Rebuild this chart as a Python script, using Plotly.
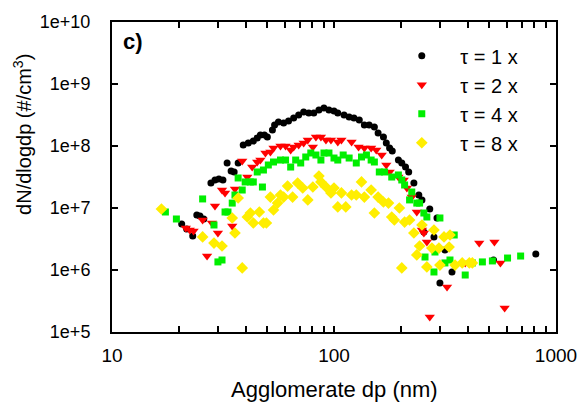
import plotly.graph_objects as go

# ---- data (Agglomerate dp in nm, dN/dlogdp in #/cm3) ----
dp_t1 = [20.6, 21.7, 23.1, 24.1, 24.9, 25.9, 27.9, 29.1, 30.3, 31.6, 33.0, 34.4, 35.5, 37.0,
         39.0, 41.1, 43.3, 45.1, 46.6, 48.6, 50.1, 52.8, 54.0, 56.2, 59.3, 62.4, 65.8, 69.3,
         73.0, 77.0, 81.1, 85.5, 90.1, 94.9, 100, 104, 111, 117, 123, 130, 137, 144, 152,
         158, 167, 172, 178, 183, 195, 202, 210, 217, 229, 241, 249, 270, 291, 254, 282,
         316, 340, 300, 523, 811]
n_t1 = [5.52e6, 4.58e6, 3.53e6, 7.71e6, 7.43e6, 6.65e6, 2.53e7, 2.83e7, 2.94e7, 2.83e7, 5.32e7,
        3.95e7, 3.81e7, 5.32e7, 1.04e8, 1.12e8, 1.20e8, 1.35e8, 1.50e8, 1.50e8, 1.40e8, 1.81e8,
        2.18e8, 2.44e8, 2.35e8, 2.53e8, 2.83e8, 3.16e8, 3.53e8, 3.41e8, 3.41e8, 3.81e8, 4.10e8,
        3.81e8, 3.67e8, 3.41e8, 3.16e8, 2.94e8, 2.83e8, 2.63e8, 2.18e8, 2.18e8, 2.02e8, 1.62e8,
        1.40e8, 1.12e8, 9.29e7, 8.30e7, 5.94e7, 5.32e7, 4.58e7, 3.81e7, 2.53e7, 1.62e7, 1.35e7,
        9.64e6, 6.90e6, 4.10e6, 3.41e6, 2.10e6, 9.29e5, 6.17e5, 1.45e6, 1.81e6]

dp_t2 = [21.5, 22.4, 23.3, 25.6, 26.8, 28.2, 29.1, 30.0, 31.3, 32.3, 34.8, 35.8, 38.6, 40.7,
         42.8, 45.1, 46.6, 49.1, 51.7, 53.4, 57.4, 60.5, 63.8, 65.8, 69.3, 73.0, 76.2, 80.3,
         82.9, 87.3, 92.0, 96.9, 104, 108, 120, 129, 137, 147, 155, 164, 172, 178, 195, 206,
         213, 224, 236, 249, 254, 262, 270, 323, 390, 451, 528, 562, 587]
n_t2 = [4.76e6, 4.42e6, 4.26e6, 6.40e6, 1.68e6, 5.73e6, 1.08e7, 3.95e6, 1.95e7, 1.75e7, 5.13e6,
        2.02e7, 5.73e7, 3.16e7, 4.58e7, 5.52e7, 5.94e7, 7.71e7, 8.00e7, 9.29e7, 1.00e8, 1.00e8,
        8.62e7, 9.64e7, 1.04e8, 1.12e8, 1.25e8, 9.64e7, 1.40e8, 1.40e8, 1.25e8, 1.25e8, 1.16e8,
        1.25e8, 1.16e8, 9.64e7, 9.29e7, 9.29e7, 8.62e7, 7.16e7, 4.94e7, 3.81e7, 3.16e7, 2.83e7,
        2.10e7, 1.50e7, 8.62e6, 4.42e6, 3.95e6, 2.83e6, 1.75e5, 5.32e5, 1.30e6, 2.72e6, 2.83e6,
        1.30e6, 2.44e5]

dp_t4 = [17.4, 19.5, 25.6, 28.8, 30.0, 31.3, 32.3, 33.3, 34.8, 35.8, 37.0, 38.6, 39.8, 42.0,
         43.3, 45.1, 47.6, 48.1, 50.6, 53.4, 57.4, 60.5, 63.8, 67.2, 70.8, 74.6, 78.6, 82.9,
         87.3, 90.1, 94.9, 100, 104, 110, 117, 126, 133, 140, 147, 152, 160, 169, 182, 195,
         202, 208, 224, 219, 236, 243, 254, 262, 300, 348, 285, 257, 282, 316, 333, 390, 420,
         466, 517, 605, 693]
n_t4 = [8.62e6, 6.65e6, 1.40e7, 5.32e6, 1.35e6, 1.45e6, 8.62e6, 8.62e6, 1.20e7, 1.62e7, 3.05e7,
        1.95e7, 2.63e7, 2.63e7, 2.63e7, 3.81e7, 2.18e7, 4.10e7, 4.94e7, 5.52e7, 5.94e7, 5.94e7,
        4.58e7, 5.94e7, 5.32e7, 6.65e7, 7.71e7, 7.16e7, 5.94e7, 7.71e7, 7.71e7, 6.40e7, 5.94e7,
        7.16e7, 6.40e7, 5.32e7, 6.65e7, 7.16e7, 5.94e7, 5.52e7, 3.81e7, 3.81e7, 3.16e7, 3.41e7,
        2.83e7, 2.35e7, 1.81e7, 1.35e7, 1.20e7, 1.20e7, 8.30e6, 7.16e6, 6.90e6, 3.67e6, 1.95e6,
        1.62e6, 9.29e5, 1.30e6, 1.45e6, 8.30e5, 1.30e6, 1.35e6, 1.40e6, 1.56e6, 1.68e6]

dp_t8 = [16.7, 25.6, 28.8, 31.3, 34.8, 35.8, 37.0, 38.6, 40.7, 42.0, 43.3, 46.1, 48.1, 49.6,
         51.7, 53.4, 55.7, 57.4, 59.3, 61.8, 65.1, 68.6, 72.3, 76.2, 80.3, 85.5, 87.3, 92.0,
         96.9, 100, 104, 108, 113, 120, 126, 133, 137, 147, 152, 158, 167, 176, 182, 187, 197,
         202, 208, 219, 229, 236, 243, 249, 262, 276, 282, 297, 300, 313, 330, 333, 351, 378,
         407, 420]
n_t8 = [9.64e6, 3.41e6, 2.72e6, 2.44e6, 6.90e6, 3.95e6, 1.45e7, 1.08e6, 7.16e6, 8.30e6, 5.73e6,
        8.62e6, 5.73e6, 5.73e6, 1.50e7, 9.29e6, 1.20e7, 1.62e7, 1.50e7, 2.26e7, 1.50e7, 2.53e7,
        2.10e7, 1.35e7, 2.18e7, 3.28e7, 2.63e7, 2.18e7, 1.75e7, 2.10e7, 1.04e7, 1.75e7, 1.04e7,
        1.62e7, 1.62e7, 2.63e7, 1.50e7, 1.95e7, 8.30e6, 1.50e7, 1.25e7, 1.20e7, 7.16e6, 6.40e6,
        1.00e7, 1.08e6, 5.94e6, 6.40e6, 3.95e6, 1.75e6, 2.44e6, 5.32e6, 1.12e6, 2.26e6, 4.42e6,
        2.26e6, 1.20e6, 3.41e6, 2.35e6, 3.67e6, 1.20e6, 1.30e6, 1.30e6, 1.30e6]

series_names = ["τ = 1 x", "τ = 2 x", "τ = 4 x", "τ = 8 x"]
x_tickvals = [10, 100, 1000]
x_ticktext = ["10", "100", "1000"]
x_minorvals = [20, 30, 40, 50, 60, 70, 80, 90, 200, 300, 400, 500, 600, 700, 800, 900]
y_tickvals = [1e5, 1e6, 1e7, 1e8, 1e9, 1e10]
y_ticktext = ["1e+5", "1e+6", "1e+7", "1e+8", "1e+9", "1e+10"]

FONT = "Liberation Sans, Arial, sans-serif"

styles = [
    dict(symbol="circle", color="black", size=7),
    dict(symbol="triangle-down", color="#ff0000", size=9),
    dict(symbol="square", color="#00ee00", size=7),
    dict(symbol="diamond", color="#ffee00", size=9),
]
data = [(dp_t1, n_t1), (dp_t2, n_t2), (dp_t4, n_t4), (dp_t8, n_t8)]

fig = go.Figure()
for (xs, ys), name, st in zip(data, series_names, styles):
    fig.add_trace(go.Scatter(
        x=xs, y=ys, mode="markers", name=name,
        marker=dict(symbol=st["symbol"], color=st["color"], size=st["size"], line=dict(width=0)),
    ))

axis_common = dict(type="log", showgrid=False, zeroline=False, automargin=False,
                   showline=True, linewidth=2, linecolor="black", mirror="allticks",
                   ticks="inside", ticklen=6, tickwidth=1.5, tickcolor="black")

fig.update_layout(
    width=580, height=404,
    margin=dict(l=112, r=24, t=22, b=72, autoexpand=False),
    paper_bgcolor="white", plot_bgcolor="white",
    font=dict(family=FONT, color="black"),
    showlegend=True,
    legend=dict(x=0.611, y=0.954, xanchor="left", yanchor="top",
                font=dict(family=FONT, size=20, color="black"),
                bgcolor="rgba(0,0,0,0)", itemwidth=67, tracegroupgap=0),
    xaxis=dict(**axis_common, range=[1, 3],
               tickvals=x_tickvals, ticktext=x_ticktext,
               minor=dict(tickvals=x_minorvals, ticks="inside", ticklen=6, tickwidth=1.5,
                          tickcolor="black", showgrid=False),
               tickfont=dict(family=FONT, size=19), ticklabelstandoff=5),
    yaxis=dict(**axis_common, range=[5, 10],
               tickvals=y_tickvals, ticktext=y_ticktext,
               tickfont=dict(family=FONT, size=18), ticklabelstandoff=16),
)

fig.add_annotation(text="Agglomerate dp (nm)", xref="paper", yref="paper",
                   x=0.5, y=-0.184, xanchor="center", yanchor="middle",
                   showarrow=False, font=dict(family=FONT, size=22, color="black"))

fig.add_annotation(text="dN/dlogdp (#/cm<sup>3</sup>)", xref="paper", yref="paper",
                   x=-0.2005, y=0.639, xanchor="center", yanchor="middle", textangle=-90,
                   showarrow=False, font=dict(family=FONT, size=20, color="black"))

fig.add_annotation(text="<b>c)</b>", xref="paper", yref="paper", x=0.02, y=0.938,
                   xanchor="left", yanchor="middle", showarrow=False,
                   font=dict(family=FONT, size=22, color="black"))

# remove the default 8px page margin so the 580x404 figure fills the window exactly
fig.write_html("out.html", config={"displayModeBar": False},
               post_script="document.body.style.margin='0';document.body.style.overflow='hidden';")
